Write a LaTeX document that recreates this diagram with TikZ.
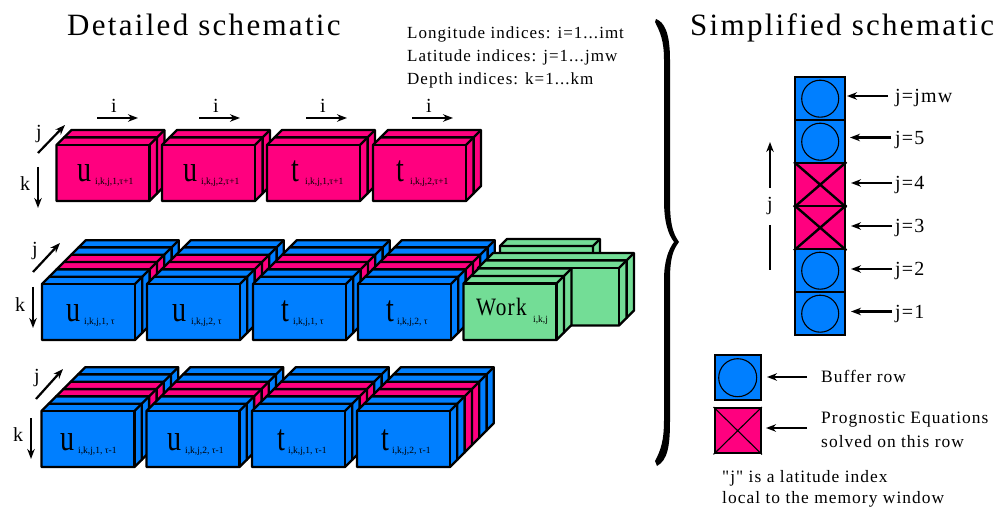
\documentclass[tikz,border=0pt]{standalone}
\usepackage{fontspec}
\setmainfont{Liberation Serif}
\newfontfamily\lsA[LetterSpace=7.4]{Liberation Serif}
\newfontfamily\lsB[LetterSpace=6]{Liberation Serif}
\usetikzlibrary{arrows.meta}
\definecolor{bluecell}{RGB}{0,127,255}
\definecolor{pinkcell}{RGB}{255,0,127}
\definecolor{greencell}{RGB}{115,221,150}
\tikzset{
  slabline/.style={draw=black,line width=2.3pt,line join=round},
  arrowline/.style={line width=2.2pt,-{Stealth[length=10pt,width=7.5pt]}},
  title/.style={font=\fontsize{31}{31}\selectfont\lsA,anchor=base west,inner sep=0pt},
  notetext/.style={font=\fontsize{17}{17}\selectfont\lsB,anchor=base west,inner sep=0pt},
  legendtext/.style={font=\fontsize{17.4}{17.4}\selectfont\lsB,anchor=base west,inner sep=0pt},
  axis/.style={font=\fontsize{20}{20}\selectfont,inner sep=0pt},
  bigletter/.style={font=\fontsize{37}{37}\selectfont,anchor=base west,inner sep=0pt},
  subtext/.style={font=\fontsize{9.5}{9.5}\selectfont,anchor=base west,inner sep=0pt},
  rowcell/.style={draw=black,line width=2.4pt},
  circ/.style={draw=black,line width=1.1pt},
}
% one slab: x, y of the front-top-left corner, width, height, depth dx, dy, colour
\newcommand{\slab}[7]{%
  \filldraw[slabline,fill=#7] (#1,#2) -- ++(#5,-#6) -- ++(#3,0) -- ++(0,#4) -- ++(-#5,#6) -- ++(-#3,0) -- cycle;
  \draw[slabline] (#1,#2) -- ++(#3,0) -- ++(0,#4);
  \draw[slabline] (#1+#3,#2) -- ++(#5,-#6);
}
% stack: x, y, w, h, step, colours listed from back to front
\newcommand{\stackbox}[6]{%
  \foreach \c [count=\n] in {#6} {\xdef\stackN{\n}}%
  \foreach \c [count=\n] in {#6} {%
    \pgfmathsetmacro{\off}{(\stackN-\n)*#5}%
    \pgfmathsetmacro{\xx}{#1+\off}%
    \pgfmathsetmacro{\yy}{#2-\off}%
    \slab{\xx}{\yy}{#3}{#4}{#5}{#5}{\c}%
  }%
}
% arrow between two named coordinates
\newcommand{\namedarrow}[3]{%
  \coordinate (#1-a) at (#2);
  \coordinate (#1-b) at (#3);
  \draw[arrowline] (#1-a) -- (#1-b);
}
% box label: name, letter x, letter baseline, letter, subscript x, subscript baseline, subscript
\newcommand{\boxlabel}[7]{%
  \node[bigletter] (#1) at (#2,#3) {\scalebox{0.76}[1]{#4}};
  \node[subtext] (#1s) at (#5,#6) {#7};
}
\begin{document}
\begin{tikzpicture}[x=1pt,y=-1pt]
\useasboundingbox (0,0) rectangle (998,510);
% titles and notes
\node[title] (t1) at (67,36) {Detailed schematic};
\node[title] (t2) at (690,36) {Simplified schematic};
\node[notetext] (n1) at (407,39) {Longitude indices: i=1...imt};
\node[notetext] (n2) at (407,62) {Latitude indices: j=1...jmw};
\node[notetext] (n3) at (407,85) {Depth indices: k=1...km};
% top row
\foreach \x in {56.5,162,267,373} {\stackbox{\x}{145}{93}{56}{7.5}{pinkcell,pinkcell}}
\foreach \x/\nm in {114/a,216/b,323/c,429/d} {
  \node[axis] (i\nm) at (\x,106) {i};
  \namedarrow{ai\nm}{\x-17,118}{\x+24,118}
}
\node[axis] (j1) at (39,134) {j};
\namedarrow{aj1}{38,153}{65,125}
\node[axis] (k1) at (25,184) {k};
\namedarrow{ak1}{38,167}{38,208}
% middle row: blue and pink
\foreach \x in {42,147,253,358} {\stackbox{\x}{284}{93}{56}{7.3}{bluecell,bluecell,pinkcell,pinkcell,bluecell,bluecell}}
% middle row: green work arrays
\filldraw[slabline,fill=greencell] (507,239) -- (600,239) -- (600,256) -- (500,256) -- (500,246) -- cycle;
\draw[slabline] (500,246) -- (593,246) -- (593,256) (593,246) -- (600,239);
\stackbox{478}{268}{141}{57.5}{7.5}{greencell,greencell}
\stackbox{463.5}{283.5}{93}{56.5}{7.5}{greencell,greencell}
% bottom row
\foreach \x in {41.5,146.5,252,357} {\stackbox{\x}{411}{93}{56}{7.3}{bluecell,bluecell,pinkcell,pinkcell,bluecell,bluecell}}
\node[axis] (j2) at (35,251) {j};
\namedarrow{aj2}{33,272}{60,243}
\node[axis] (k2) at (20,305) {k};
\namedarrow{ak2}{33,287}{33,328}
\node[axis] (j3) at (37,378) {j};
\namedarrow{aj3}{36,399}{63,369}
\node[axis] (k3) at (18,435) {k};
\namedarrow{ak3}{31,418}{31,459}
% box labels
\boxlabel{l1}{77}{182}{u}{95}{185}{i,k,j,1,τ+1}
\boxlabel{l2}{183}{182}{u}{201}{185}{i,k,j,2,τ+1}
\boxlabel{l3}{291}{182}{t}{305}{185}{i,k,j,1,τ+1}
\boxlabel{l4}{396}{182}{t}{410}{185}{i,k,j,2,τ+1}
\boxlabel{l5}{66}{322}{u}{84}{325}{i,k,j,1, τ}
\boxlabel{l6}{172}{322}{u}{191}{325}{i,k,j,2, τ}
\boxlabel{l7}{281}{322}{t}{293}{325}{i,k,j,1, τ}
\boxlabel{l8}{386}{322}{t}{397}{325}{i,k,j,2, τ}
\boxlabel{l9}{60}{450}{u}{78}{453}{i,k,j,1, τ-1}
\boxlabel{l10}{167}{450}{u}{185}{453}{i,k,j,2, τ-1}
\boxlabel{l11}{277}{450}{t}{288}{453}{i,k,j,1, τ-1}
\boxlabel{l12}{381}{450}{t}{392}{453}{i,k,j,2, τ-1}
\node[font=\fontsize{25}{25}\selectfont\lsB,anchor=base west,inner sep=0pt] (w) at (476,316) {\scalebox{0.85}[1]{Work}};
\node[subtext] (ws) at (533,323) {i,k,j};
% brace
\fill (656,19) .. controls (664,22) and (670,32) .. (670,60) -- (670,200)
  .. controls (670,222) and (672,232) .. (679,242) .. controls (673,250) and (670,258) .. (670,280)
  -- (670,420) .. controls (670,445) and (668,460) .. (657,466) -- (655,461)
  .. controls (661,450) and (664,440) .. (664,420) -- (664,280)
  .. controls (664,262) and (668,250) .. (674,242) .. controls (668,234) and (664,222) .. (664,200)
  -- (664,60) .. controls (664,40) and (660,32) .. (655,22) -- cycle;
% simplified column
\foreach \y/\nm in {76/a,119/b,248/e,291/f} {
  \node[rowcell,fill=bluecell,minimum width=50pt,minimum height=43pt,anchor=north west,inner sep=0pt] (c\nm) at (794,\y) {};
  \draw[circ] (c\nm.center) circle (18.5);
}
\foreach \y/\nm in {162/c,205/d} {
  \node[rowcell,fill=pinkcell,minimum width=50pt,minimum height=43pt,anchor=north west,inner sep=0pt] (c\nm) at (794,\y) {};
  \draw[rowcell] (c\nm.north west) -- (c\nm.south east) (c\nm.north east) -- (c\nm.south west);
}
\foreach \y/\xs/\txt/\nm in {96/888/j=jmw/a,137.5/891/j=5/b,183/892/j=4/c,226/892/j=3/d,269/892/j=2/e,311.5/892/j=1/f} {
  \namedarrow{r\nm}{\xs,\y}{\xs-41,\y}
  \node[notetext,font=\fontsize{20}{20}\selectfont\lsB] (rl\nm) at (895,\y+7) {\txt};
}
\namedarrow{aup}{770,188}{770,142}
\node[axis] (jup) at (770,206) {j};
\coordinate (jl-a) at (770,225);
\coordinate (jl-b) at (770,270);
\draw[line width=2.2pt] (jl-a) -- (jl-b);
% legend
\node[rowcell,fill=bluecell,minimum width=46pt,minimum height=45pt,anchor=north west,inner sep=0pt] (lg1) at (713.5,354) {};
\draw[circ] (lg1.center) circle (19);
\node[rowcell,fill=pinkcell,minimum width=46pt,minimum height=45pt,anchor=north west,inner sep=0pt] (lg2) at (713.5,407) {};
\draw[line width=1.1pt] (lg2.north west) -- (lg2.south east) (lg2.north east) -- (lg2.south west);
\namedarrow{lga}{807,377}{767,377}
\namedarrow{lgb}{807,428}{766,428}
\node[legendtext] (x1) at (821,382) {Buffer row};
\node[legendtext] (x2) at (821,423) {Prognostic Equations};
\node[legendtext] (x3) at (821,447) {solved on this row};
\node[legendtext] (x4) at (722,482) {"j" is a latitude index};
\node[legendtext] (x5) at (722,503) {local to the memory window};
\end{tikzpicture}
\end{document}
